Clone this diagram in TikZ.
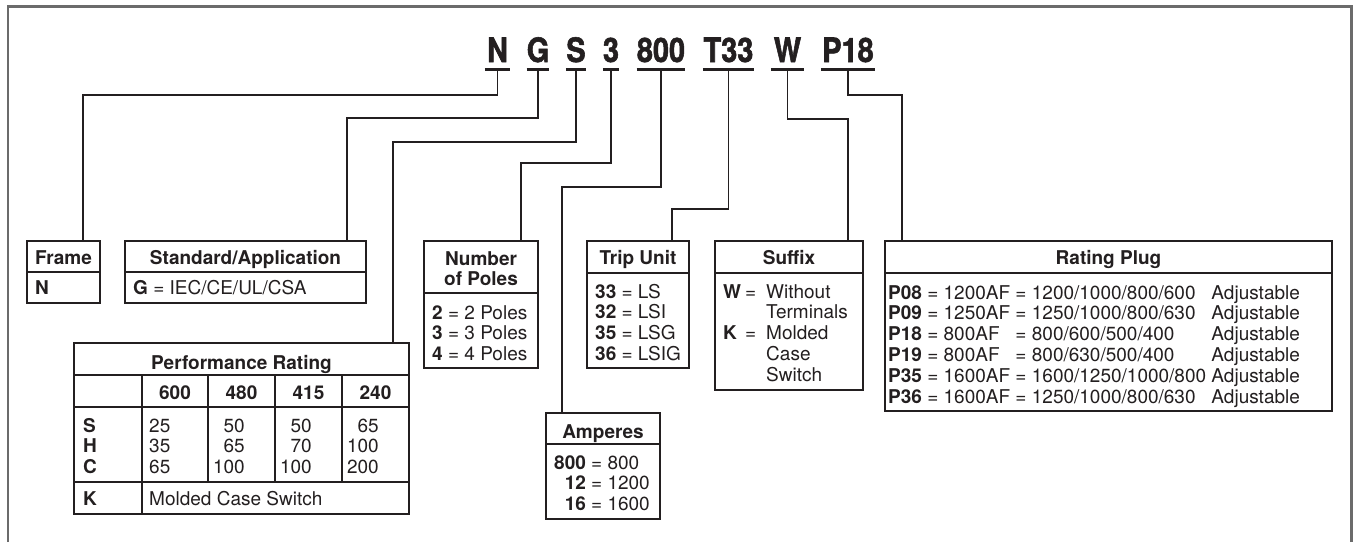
\documentclass[tikz,border=0pt]{standalone}
\usepackage{fontspec}
\setmainfont{TeX Gyre Heros}
\newfontfamily\codefont[FakeBold=1.6, FakeStretch=0.86]{TeX Gyre Heros}
\usepackage{graphicx}
\usepackage{array}
\definecolor{ink}{HTML}{231F20}
\definecolor{frm}{HTML}{6B6B6B}
\tikzset{
  box/.style={draw=ink, line width=1.2pt, inner sep=0pt, outer sep=0pt, anchor=north west},
  divl/.style={draw=ink, line width=1.2pt},
  conn/.style={draw=ink, line width=1.3pt},
  uline/.style={draw=ink, line width=2.7pt},
  outerframe/.style={draw=frm, line width=2.6pt},
  code/.style={inner sep=0pt, anchor=base, text=ink, font=\fontsize{33.6}{36}\codefont\bfseries},
  hd/.style={inner sep=0pt, anchor=base, text=ink, font=\fontsize{19}{20.8}\selectfont\bfseries},
  tl/.style={inner sep=0pt, anchor=base west, text=ink, font=\fontsize{19}{20.8}\selectfont},
  tr/.style={inner sep=0pt, anchor=base east, text=ink, font=\fontsize{19}{20.8}\selectfont},
}
\begin{document}
\begin{tikzpicture}[x=1pt,y=-1pt]
\useasboundingbox (0,0) rectangle (1356,542);
\fill[white] (0,0) rectangle (1356,542);
% outer frame
\draw[outerframe] (8,542) -- (8,6.5) -- (1351.5,6.5) -- (1351.5,542);

% code letters
\node[code, minimum width=25] (cN) at (497.5,62) {N};
\node[code, minimum width=22] (cG) at (538,62) {G};
\node[code, minimum width=20] (cS) at (576,62) {S};
\node[code, minimum width=16] (c3) at (611,62) {3};
\node[code, minimum width=48] (c800) at (661,62) {800};
\node[code, minimum width=51] (cT) at (728.5,62) {T33};
\node[code, minimum width=33] (cW) at (787.5,62) {W};
\node[code, minimum width=54] (cP) at (848,62) {P18};
\foreach \n in {cN,cG,cS,c3,c800,cT,cW,cP}{
  \draw[uline] ([yshift=-7.3pt]\n.base west) -- ([yshift=-7.3pt]\n.base east);
}

% boxes
\node[box, minimum width=73, minimum height=62] (frame) at (27,241) {};
\draw[divl] ([yshift=-31pt]frame.north west) -- ([yshift=-31pt]frame.north east);
\node[box, minimum width=241, minimum height=62] (std) at (125,241) {};
\draw[divl] ([yshift=-31pt]std.north west) -- ([yshift=-31pt]std.north east);
\node[box, minimum width=114, minimum height=127] (poles) at (424,241) {};
\draw[divl] ([yshift=-52pt]poles.north west) -- ([yshift=-52pt]poles.north east);
\node[box, minimum width=102, minimum height=127] (trip) at (587,241) {};
\draw[divl] ([yshift=-32pt]trip.north west) -- ([yshift=-32pt]trip.north east);
\node[box, minimum width=148, minimum height=149] (suffix) at (715,241) {};
\draw[divl] ([yshift=-32pt]suffix.north west) -- ([yshift=-32pt]suffix.north east);
\node[box, minimum width=447, minimum height=170] (plug) at (885,241) {};
\draw[divl] ([yshift=-32pt]plug.north west) -- ([yshift=-32pt]plug.north east);
\node[box, minimum width=114, minimum height=106] (amps) at (546,413) {};
\draw[divl] ([yshift=-31pt]amps.north west) -- ([yshift=-31pt]amps.north east);
\node[box, minimum width=335, minimum height=171] (perf) at (74,343) {};
\draw[divl] (74,375) -- (409,375);
\draw[divl] (74,407) -- (409,407);
\draw[divl] (74,482) -- (409,482);
\draw[divl] (142,375) -- (142,514);
\draw[divl] (208,375) -- (208,482);
\draw[divl] (275,375) -- (275,482);
\draw[divl] (342,375) -- (342,482);

% connectors
\draw[conn] ([yshift=-8.5pt]cN.base) -- ++(0,24.5) -| ([xshift=56pt]frame.north west);
\draw[conn] ([yshift=-8.5pt]cG.base) -- ++(0,47.5) -| ([xshift=222pt]std.north west);
\draw[conn] ([yshift=-8.5pt]cS.base) -- ++(0,71.5) -| ([xshift=319pt]perf.north west);
\draw[conn] ([yshift=-8.5pt]c3.base) -- ++(0,92.5) -| ([xshift=97pt]poles.north west);
\draw[conn] ([yshift=-8.5pt]c800.base) -- ++(0,116.5) -| ([xshift=16pt]amps.north west);
\draw[conn] ([yshift=-8.5pt]cT.base) -- ++(0,138.5) -| ([xshift=85pt]trip.north west);
\draw[conn] ([yshift=-8.5pt]cW.base) -- ++(0,48.5) -| ([xshift=133pt]suffix.north west);
\draw[conn] ([yshift=-8.5pt]cP.base) -- ++(0,24.5) -| ([xshift=17pt]plug.north west);

% Frame
\node[hd] (frameH) at (63.5,264) {Frame};
\node[tl] (frameN) at (35,294.5) {\textbf{N}};
% Standard
\node[hd] (stdH) at (245.5,264) {Standard/Application};
\node[tl] (stdG) at (133,294.5) {\textbf{G} = IEC/CE/UL/CSA};
% Poles
\node[hd] (polH) at (481,265) {\begin{tabular}[t]{@{}c@{}}Number\\of Poles\end{tabular}};
\node[tl] (polT) at (432,319) {\begin{tabular}[t]{@{}l@{}}\textbf{2} = 2 Poles\\\textbf{3} = 3 Poles\\\textbf{4} = 4 Poles\end{tabular}};
% Trip unit
\node[hd] (tripH) at (638,264) {Trip Unit};
\node[tl] (tripT) at (595,298) {\begin{tabular}[t]{@{}l@{}}\textbf{33} = LS\\\textbf{32} = LSI\\\textbf{35} = LSG\\\textbf{36} = LSIG\end{tabular}};
% Suffix
\node[hd] (sufH) at (789,264) {Suffix};
\node[tl] (sufT) at (723,298) {\begin{tabular}[t]{@{}l@{\hspace{4pt}}c@{\hspace{10pt}}l@{}}\textbf{W} & = & Without\\ & & Terminals\\\textbf{K} & = & Molded\\ & & Case\\ & & Switch\end{tabular}};
% Rating plug
\node[hd] (plugH) at (1108.5,264) {Rating Plug};
\node[tl] (plugT) at (888,299) {\begin{tabular}[t]{@{}l@{\hspace{5.3pt}}l@{\hspace{5.3pt}}l@{}}
\textbf{P08} = 1200AF & = 1200/1000/800/600 & Adjustable\\
\textbf{P09} = 1250AF & = 1250/1000/800/630 & Adjustable\\
\textbf{P18} = 800AF & = 800/600/500/400 & Adjustable\\
\textbf{P19} = 800AF & = 800/630/500/400 & Adjustable\\
\textbf{P35} = 1600AF & = 1600/1250/1000/800 & Adjustable\\
\textbf{P36} = 1600AF & = 1250/1000/800/630 & Adjustable
\end{tabular}};
% Amperes
\node[hd] (ampH) at (603,438) {Amperes};
\node[tl] (ampT) at (554,469) {\begin{tabular}[t]{@{}r@{\ =\ }l@{}}\textbf{800} & 800\\\textbf{12} & 1200\\\textbf{16} & 1600\end{tabular}};
% Performance rating
\node[hd] (perfH) at (241.5,369) {Performance Rating};
\node[hd] (v600) at (175,399) {600};
\node[hd] (v480) at (241.5,399) {480};
\node[hd] (v415) at (308.5,399) {415};
\node[hd] (v240) at (375.5,399) {240};
\node[tl] (shc) at (83,432) {\begin{tabular}[t]{@{}l@{}}\textbf{S}\\\textbf{H}\\\textbf{C}\end{tabular}};
\node[tl] (d600) at (149,432) {\begin{tabular}[t]{@{}l@{}}25\\35\\65\end{tabular}};
\node[tr] (d480) at (245,432) {\begin{tabular}[t]{@{}r@{}}50\\65\\100\end{tabular}};
\node[tr] (d415) at (312,432) {\begin{tabular}[t]{@{}r@{}}50\\70\\100\end{tabular}};
\node[tr] (d240) at (379,432) {\begin{tabular}[t]{@{}r@{}}65\\100\\200\end{tabular}};
\node[tl] (kK) at (83,505) {\textbf{K}};
\node[tl] (kT) at (149,505) {Molded Case Switch};
\end{tikzpicture}
\end{document}
